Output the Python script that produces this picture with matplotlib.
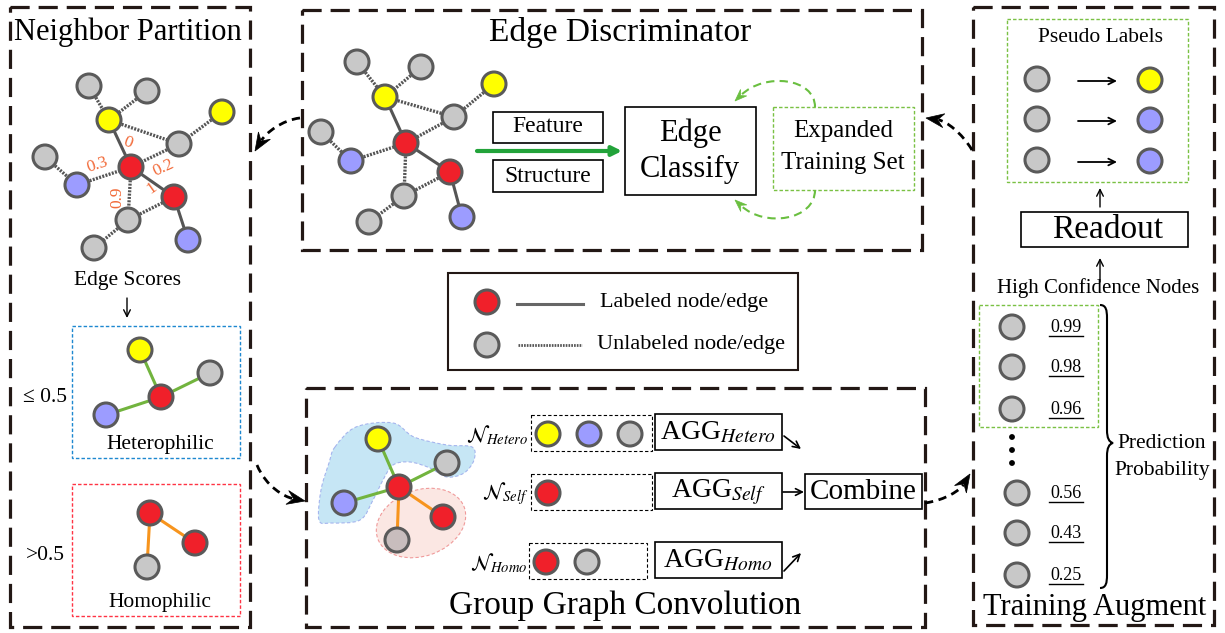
import numpy as np
import matplotlib
matplotlib.use('Agg')
import matplotlib.pyplot as plt
from matplotlib.patches import Circle, Rectangle, Ellipse, PathPatch, Polygon
from matplotlib.path import Path

plt.rcParams['font.family'] = ['Liberation Serif', 'DejaVu Serif']
plt.rcParams['mathtext.fontset'] = 'stix'

# node colours
fills = {'g': '#c8c8c8', 'r': '#f0202a', 'y': '#ffff00', 'b': '#9c9cff', 't': '#c8bdbd'}
ring = '#5a5a5a'
edgegray = '#555555'
green_e = '#72b43e'
orange_e = '#f7941d'
score_col = '#f26b3a'
border_col = '#231815'

# neighbor partition graph
np_nodes = [(89, 86, 'g'), (147, 91, 'g'), (109, 120, 'y'), (222, 112, 'y'), (179, 144, 'g'),
            (45, 157, 'g'), (131, 167, 'r'), (77, 185, 'b'), (174, 197, 'r'), (128, 220, 'g'),
            (188, 240, 'b'), (94, 248, 'g')]
np_edges = [(0, 2, ':'), (1, 2, ':'), (2, 6, '-'), (2, 4, ':'), (3, 4, ':'), (4, 6, ':'),
            (5, 7, ':'), (7, 6, ':'), (6, 8, '-'), (6, 9, ':'), (9, 8, ':'), (8, 10, '-'), (9, 11, ':')]
score_txt = ['0', '0.3', '0.2', '1', '0.9']
score_pos = [(128, 143), (97, 165), (163, 168), (152, 188), (117, 197)]
score_rot = [-20, 18, 25, 35, 90]

# edge discriminator graph
ed_nodes = [(357, 62, 'g'), (421, 67, 'g'), (385, 97, 'y'), (494, 84, 'y'), (454, 117, 'g'),
            (321, 132, 'g'), (406, 143, 'r'), (351, 161, 'b'), (450, 172, 'r'), (404, 196, 'g'),
            (369, 222, 'g'), (462, 217, 'b')]
ed_edges = [(0, 2, ':'), (1, 2, ':'), (2, 6, '-'), (2, 4, ':'), (3, 4, ':'), (4, 6, ':'),
            (5, 7, ':'), (7, 6, ':'), (6, 8, '-'), (6, 9, ':'), (9, 8, ':'), (8, 11, '-'), (9, 10, ':')]

# heterophilic / homophilic subgraphs
het_nodes = [(161, 397, 'r'), (140, 350, 'y'), (210, 373, 'g'), (106, 415, 'b')]
hom_nodes = [(150, 513, 'r'), (195, 543, 'r'), (147, 567, 'g')]

# group graph convolution graph
gg_nodes = [(399, 487, 'r'), (378, 439, 'y'), (447, 463, 'g'), (344, 503, 'b'), (443, 517, 'r'), (397, 540, 't')]
gg_edges = [(0, 1, green_e), (0, 2, green_e), (0, 3, green_e), (0, 4, orange_e), (0, 5, orange_e)]
blob = [(335, 447), (356, 427), (393, 423), (414, 437), (447, 445), (472, 447), (474, 460),
        (464, 473), (447, 477), (430, 468), (410, 462), (393, 465), (383, 480), (373, 500),
        (360, 520), (331, 523), (319, 520), (321, 490), (329, 463)]

group_names = [r'$\mathcal{N}_{Hetero}$', r'$\mathcal{N}_{Self}$', r'$\mathcal{N}_{Homo}$']
group_y = [433, 492, 561]
group_members = [['y', 'b', 'g'], ['r'], ['r', 'g']]
agg_names = [r'AGG$_{Hetero}$', r'AGG$_{Self}$', r'AGG$_{Homo}$']

# training augment
pseudo_from = ['g', 'g', 'g']
pseudo_to = ['y', 'b', 'b']
pseudo_y = [79, 119, 160]
prob_vals = ['0.99', '0.98', '0.96', '0.56', '0.43', '0.25']
prob_y = [327, 367, 409, 493, 533, 575]
prob_x = [1012, 1012, 1012, 1017, 1017, 1017]

fig = plt.figure(figsize=(12.25, 6.33), dpi=100)
ax = fig.add_axes([0, 0, 1, 1])
ax.set_xlim(0, 1225)
ax.set_ylim(633, 0)
ax.axis('off')


def node(x, y, c, r=12, z=4):
    ax.add_patch(Circle((x, y), r, facecolor=fills[c], edgecolor=ring, lw=2.2, zorder=z))


def link(p, q, style, color=edgegray):
    ls = '-' if style == '-' else (0, (0.6, 0.4))
    ax.plot([p[0], q[0]], [p[1], q[1]], color=color, lw=2.4 if style != '-' else 2.2, ls=ls,
            zorder=2, solid_capstyle='butt', dash_capstyle='butt')


def graph(nodes, edges):
    for a, b, s in edges:
        link(nodes[a], nodes[b], s)
    for x, y, c in nodes:
        node(x, y, c)


def box(x0, y0, x1, y1, ls='-', lw=1.2, color='k', z=1):
    ax.add_patch(Rectangle((x0, y0), x1 - x0, y1 - y0, fill=False, ls=ls, lw=lw, edgecolor=color, zorder=z))


def txt(x, y, s, size, **kw):
    ax.text(x, y, s, fontsize=size, ha=kw.pop('ha', 'center'), va=kw.pop('va', 'center'), **kw)


def curved_arrow(p0, c1, c2, tip, color='k', ls=(0, (3, 2)), lw=2.0, hl=18, hw=14):
    tip = np.array(tip, float)
    d = tip - np.array(c2, float)
    d = d / np.hypot(*d)
    n = np.array([-d[1], d[0]])
    end = tip - d * hl * 0.7
    path = Path([p0, c1, c2, end], [Path.MOVETO, Path.CURVE4, Path.CURVE4, Path.CURVE4])
    ax.add_patch(PathPatch(path, fill=False, edgecolor=color, lw=lw, ls=ls, zorder=5))
    base = tip - d * hl
    pts = [tip, base + n * hw / 2, tip - d * hl * 0.65, base - n * hw / 2]
    ax.add_patch(Polygon(pts, closed=True, facecolor=color, edgecolor=color, lw=0.5, zorder=6))


def small_arrow(p, q, lw=1.2):
    ax.annotate('', xy=q, xytext=p, arrowprops=dict(arrowstyle='->', lw=lw, color='k',
                                                    shrinkA=0, shrinkB=0, mutation_scale=12))


panel_ls = (0, (6, 2.8))
# panels
box(10, 7, 250, 627, ls=panel_ls, lw=2.3, color=border_col)
box(302, 10, 922, 250, ls=panel_ls, lw=2.3, color=border_col)
box(306, 388, 925, 627, ls=panel_ls, lw=2.3, color=border_col)
box(973, 7, 1214, 625, ls=panel_ls, lw=2.3, color=border_col)

txt(128, 32, 'Neighbor Partition', 22)
txt(620, 32, 'Edge Discriminator', 24)
txt(625, 606, 'Group Graph Convolution', 24)
txt(1095, 608, 'Training Augment', 22)

# ---- neighbor partition ----
graph(np_nodes, np_edges)
for s, (x, y), r in zip(score_txt, score_pos, score_rot):
    txt(x, y, s, 12.5, color=score_col, rotation=r)
txt(127, 280, 'Edge Scores', 15.5)
small_arrow((127, 298), (127, 318), lw=1.0)

box(72, 326, 240, 458, ls=(0, (2.5, 1.5)), lw=1.0, color='#1e88d0')
for x, y, c in het_nodes[1:]:
    link(het_nodes[0], (x, y), '-', color=green_e)
for x, y, c in het_nodes:
    node(x, y, c)
txt(160, 445, 'Heterophilic', 15.5)
txt(45, 398, '≤ 0.5', 15.5)

box(72, 484, 240, 616, ls=(0, (2.5, 1.5)), lw=1.0, color='#ff3344')
for x, y, c in hom_nodes[1:]:
    link(hom_nodes[0], (x, y), '-', color=orange_e)
for x, y, c in hom_nodes:
    node(x, y, c)
txt(160, 603, 'Homophilic', 15.5)
txt(45, 556, '>0.5', 15.5)

# ---- edge discriminator ----
graph(ed_nodes, ed_edges)
box(493, 112, 603, 143)
txt(548, 127, 'Feature', 17)
box(493, 160, 603, 192)
txt(548, 176, 'Structure', 17)
ax.annotate('', xy=(622, 151), xytext=(477, 151),
            arrowprops=dict(arrowstyle='-|>', lw=3, color='#22a33a', shrinkA=0, shrinkB=0, mutation_scale=14))
box(625, 107, 756, 195)
txt(690, 133, 'Edge', 22)
txt(690, 169, 'Classify', 22)
box(773, 107, 914, 190, ls=(0, (2.5, 1.5)), lw=1.0, color='#7ac143')
txt(843, 131, 'Expanded', 18)
txt(843, 163, 'Training Set', 18)
curved_arrow((815, 107), (815, 78), (765, 72), (735, 101), color='#6abf40', ls=(0, (4, 2.5)), lw=1.5, hl=12, hw=9)
curved_arrow((815, 190), (815, 220), (765, 228), (735, 200), color='#6abf40', ls=(0, (4, 2.5)), lw=1.5, hl=12, hw=9)

# ---- legend ----
box(448, 273, 798, 370, lw=1.5, color=border_col)
node(487, 302, 'r')
ax.plot([517, 583], [304, 304], color='#666666', lw=2.2)
txt(600, 302, 'Labeled node/edge', 16, ha='left')
node(487, 345, 'g')
ax.plot([518, 582], [345, 345], color='#555555', lw=2.0, ls=(0, (0.6, 0.4)))
txt(597, 345, 'Unlabeled node/edge', 16, ha='left')

# ---- group graph convolution ----
pts = np.array(blob, float)
m = len(pts)
verts = [pts[0]]
codes = [Path.MOVETO]
for i in range(m):
    p0, p1, p2, p3 = pts[i - 1], pts[i], pts[(i + 1) % m], pts[(i + 2) % m]
    verts += [p1 + (p2 - p0) / 6, p2 - (p3 - p1) / 6, p2]
    codes += [Path.CURVE4] * 3
ax.add_patch(PathPatch(Path(verts, codes), facecolor='#c6e6f5', edgecolor='#a5b5ee', lw=0.8,
                       ls=(0, (3, 2)), zorder=1))
ax.add_patch(Ellipse((421, 523), 92, 66, angle=-20, facecolor='#fbe7e3', edgecolor='#f09a9a',
                     lw=0.8, ls=(0, (3, 2)), zorder=1.5))
for a, b, col in gg_edges:
    link(gg_nodes[a], gg_nodes[b], '-', color=col)
for x, y, c in gg_nodes:
    node(x, y, c)

box_x = [(531, 652), (531, 652), (529, 647)]
for name, y, mem, agg, (bx0, bx1) in zip(group_names, group_y, group_members, agg_names, box_x):
    txt(528, y + 2, name, 15, ha='right')
    box(bx0, y - 18, bx1, y + 18, ls=(0, (3, 2)), lw=0.8)
    for k, c in enumerate(mem):
        node(bx0 + 17 + 41 * k, y + 1, c)
    box(655, y - 19, 782, y + 17)
    txt(718, y, agg, 20)
small_arrow((784, 436), (801, 449))
small_arrow((783, 492), (804, 492))
small_arrow((784, 571), (801, 553))
box(805, 474, 922, 509)
txt(863, 492, 'Combine', 21)

# ---- training augment ----
box(1007, 19, 1188, 182, ls=(0, (2.5, 1.5)), lw=1.0, color='#7ac143')
txt(1100, 37, 'Pseudo Labels', 15.5)
for a, b, y in zip(pseudo_from, pseudo_to, pseudo_y):
    node(1037, y, a)
    node(1150, y + 1, b)
    small_arrow((1078, y + 2), (1117, y + 2), lw=1.3)
small_arrow((1100, 207), (1100, 188), lw=1.0)
box(1021, 212, 1188, 247)
txt(1108, 230, 'Readout', 24)
small_arrow((1100, 282), (1100, 258), lw=1.0)
txt(1098, 288, 'High Confidence Nodes', 15)

box(979, 305, 1098, 427, ls=(0, (2.5, 1.5)), lw=1.0, color='#7ac143')
for v, x, y in zip(prob_vals, prob_x, prob_y):
    node(x, y, 'g')
    txt(1066, y, v, 13)
    ax.plot([1049, 1083], [y + 9, y + 9], color='k', lw=1.0)
for y in (437, 450, 463):
    ax.add_patch(Circle((1012, y), 2.2, color='k'))
brace = Path([(1100, 305), (1106, 305), (1107, 310), (1107, 318), (1107, 430),
              (1107, 438), (1109, 442), (1113, 443), (1109, 444), (1107, 448), (1107, 456),
              (1107, 575), (1107, 583), (1106, 588), (1100, 588)],
             [Path.MOVETO, Path.CURVE4, Path.CURVE4, Path.CURVE4, Path.LINETO,
              Path.CURVE4, Path.CURVE4, Path.CURVE4, Path.CURVE4, Path.CURVE4, Path.CURVE4,
              Path.LINETO, Path.CURVE4, Path.CURVE4, Path.CURVE4])
ax.add_patch(PathPatch(brace, fill=False, lw=1.5, edgecolor='k'))
txt(1162, 443, 'Prediction', 15.5)
txt(1162, 471, 'Probability', 15.5)

# ---- flow arrows between panels ----
curved_arrow((300, 118), (282, 120), (266, 133), (255, 151))
curved_arrow((257, 465), (266, 487), (285, 497), (305, 501))
curved_arrow((972, 150), (962, 133), (946, 121), (926, 118))
curved_arrow((925, 503), (946, 500), (960, 490), (970, 474))

fig.savefig('out.png', dpi=100)
